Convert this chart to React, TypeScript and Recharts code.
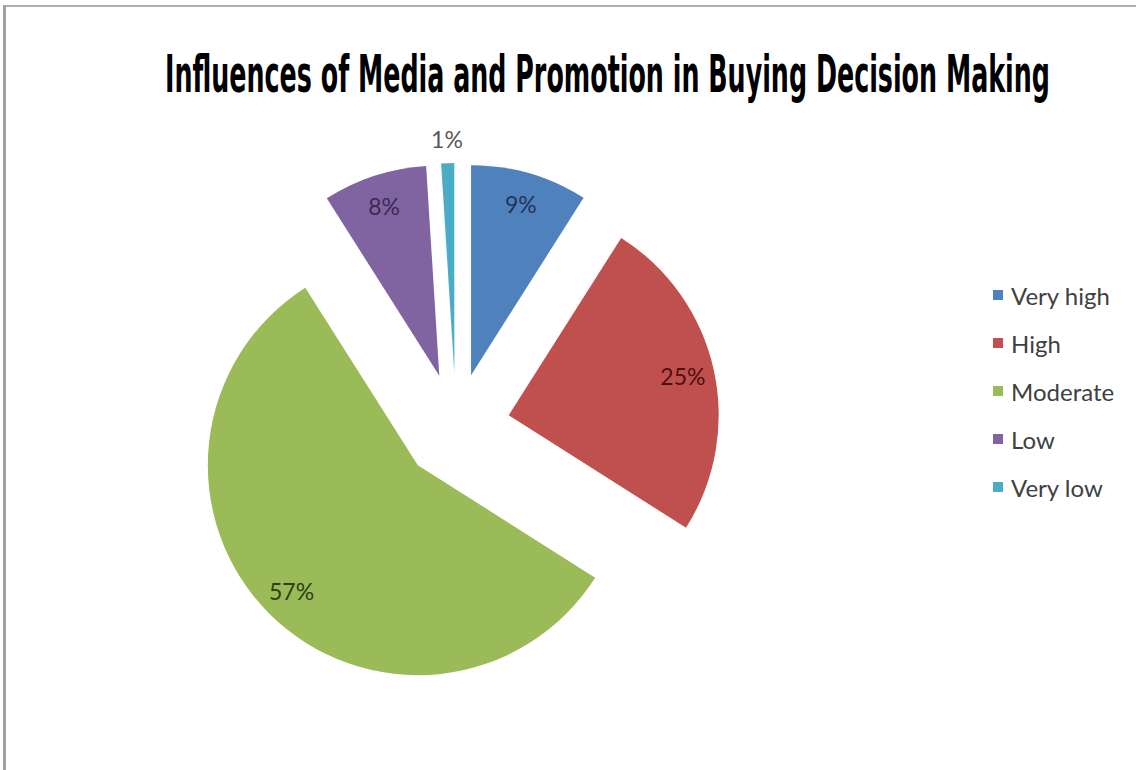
import React from 'react';
import { PieChart, Pie, Cell, Legend, Customized } from 'recharts';

const categories = ['Very high', 'High', 'Moderate', 'Low', 'Very low'];
const values = [9, 25, 57, 8, 1];
const sliceColors = ['#4F81BD', '#C0504D', '#9BBB59', '#8064A2', '#4BACC6'];
const labelColors = ['#1f3559', '#4d1010', '#2f3f12', '#3b2a55', '#595959'];
const TITLE = 'Influences of Media and Promotion in Buying Decision Making';

const data = categories.map((name, i) => ({ name, value: values[i] }));

const W = 1136;
const H = 770;
const CX = 456;
const CY = 427;
const R = 210;
const EXPLODE = 54;
const RADIAN = Math.PI / 180;
const FONT = 'Lato, "Open Sans", "DejaVu Sans", sans-serif';

const total = values.reduce((a, b) => a + b, 0);
const midFractions = values.map((v, i) => {
  const before = values.slice(0, i).reduce((a, b) => a + b, 0);
  return (before + v / 2) / total;
});

const makeLabel = (active: number) => (props: any) => {
  const { cx, cy, midAngle, outerRadius, index, value, percent } = props;
  if (index !== active) return null;
  const small = percent < 0.02;
  const rr = small ? outerRadius + 24 : outerRadius * 0.85;
  const x = cx + rr * Math.cos(-midAngle * RADIAN);
  const y = cy + rr * Math.sin(-midAngle * RADIAN);
  return (
    <text
      x={x}
      y={y}
      fill={labelColors[index]}
      textAnchor="middle"
      dominantBaseline="central"
      fontFamily={FONT}
      fontSize={23}
    >
      {`${value}%`}
    </text>
  );
};

const LegendContent = () => (
  <div style={{ fontFamily: FONT, fontSize: 24, color: '#404040' }}>
    {categories.map((c, i) => (
      <div key={c} style={{ display: 'flex', alignItems: 'center', height: 48 }}>
        <span
          style={{
            display: 'inline-block',
            width: 10,
            height: 10,
            background: sliceColors[i],
            marginRight: 8,
          }}
        />
        <span>{c}</span>
      </div>
    ))}
  </div>
);

const Title = () => (
  <text
    x={0}
    y={0}
    transform="translate(165, 92) scale(1, 1.82)"
    textLength={885}
    lengthAdjust="spacingAndGlyphs"
    fontFamily='"Liberation Sans Narrow", "DejaVu Sans Condensed", "Liberation Sans", sans-serif'
    fontWeight="bold"
    fontSize={28}
    fill="#000"
  >
    {TITLE}
  </text>
);

export default function App() {
  return (
    <div
      style={{
        position: 'absolute',
        left: 0,
        top: 0,
        width: W,
        height: H,
        background: '#fff',
        overflow: 'hidden',
      }}
    >
      <div style={{ position: 'absolute', left: 3, top: 5, width: W, height: 2, background: '#b0b0b0' }} />
      <div style={{ position: 'absolute', left: 3, top: 5, width: 3, height: H, background: '#a0a0a0' }} />
      <div style={{ position: 'absolute', left: 0, top: 0 }}>
        <PieChart width={W} height={H} margin={{ top: 0, right: 0, bottom: 0, left: 0 }}>
          <Customized component={<Title />} />
          {categories.map((c, i) => {
            const ang = midFractions[i] * 360 * RADIAN;
            const cx = CX + EXPLODE * Math.sin(ang);
            const cy = CY - EXPLODE * Math.cos(ang);
            return (
              <Pie
                key={c}
                data={data}
                dataKey="value"
                nameKey="name"
                cx={cx}
                cy={cy}
                outerRadius={R}
                startAngle={90}
                endAngle={-270}
                stroke="none"
                isAnimationActive={false}
                labelLine={false}
                label={makeLabel(i)}
                legendType="none"
              >
                {data.map((d, j) => (
                  <Cell key={d.name} fill={j === i ? sliceColors[j] : 'transparent'} stroke="none" />
                ))}
              </Pie>
            );
          })}
          <Legend
            content={<LegendContent />}
            layout="vertical"
            wrapperStyle={{ position: 'absolute', left: 993, top: 271, width: 142 }}
          />
        </PieChart>
      </div>
    </div>
  );
}
